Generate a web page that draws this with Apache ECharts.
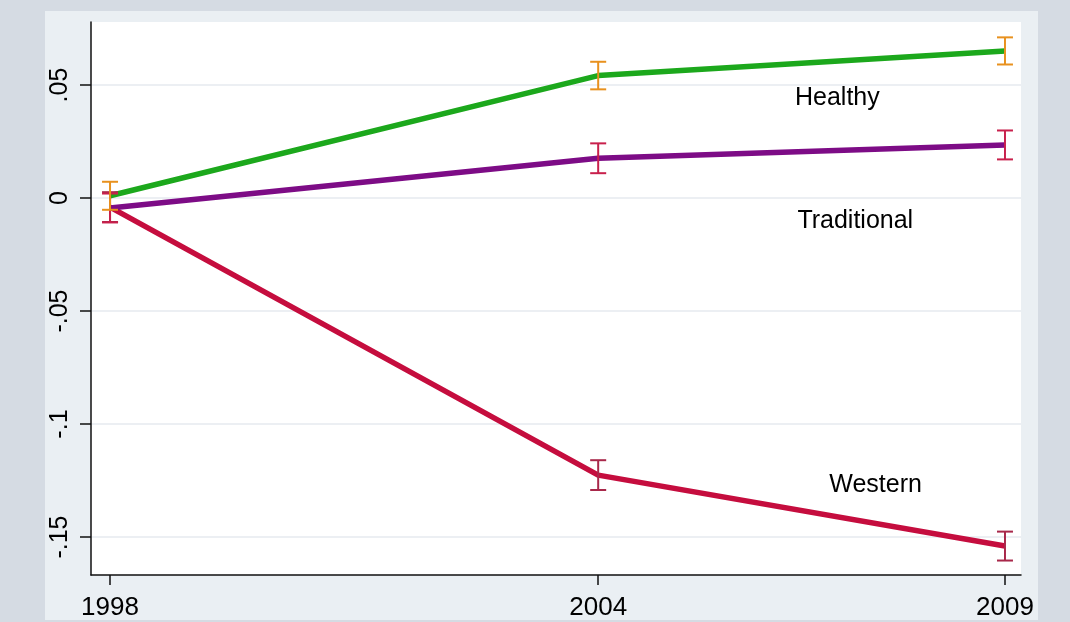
<!DOCTYPE html>
<html>
<head>
<meta charset="utf-8">
<script src="https://cdn.jsdelivr.net/npm/echarts@6/dist/echarts.min.js"></script>
<style>
  html, body { margin: 0; padding: 0; background: #d5dbe3; }
  #chart { width: 1070px; height: 622px; }
</style>
</head>
<body>
<div id="chart"></div>
<script>
// Survey waves and the three dietary pattern trajectories
const years = [1998, 2004, 2009];
const healthy = [0.001, 0.0542, 0.0651];
const traditional = [-0.0044, 0.0176, 0.0235];
const western = [-0.004, -0.1226, -0.154];

// 95% confidence half-widths per wave
const healthyCI = [0.0062, 0.0061, 0.006];
const traditionalCI = [0.0064, 0.0066, 0.0064];
const westernCI = [0.0066, 0.0066, 0.0064];

// Axis ticks
const yTicks = [-0.15, -0.1, -0.05, 0, 0.05];
const yTickLabels = ['-.15', '-.1', '-.05', '0', '.05'];
const xTicks = [1998, 2004, 2009];

// Pattern names written inside the plot, at data coordinates
const patternNames = ['Healthy', 'Traditional', 'Western'];
const nameYears = [2006.94, 2007.16, 2007.41];
const nameValues = [0.0442, -0.0102, -0.127];

const colors = {
  healthy: '#1ca81c',
  traditional: '#7d0c86',
  western: '#c50d3e',
  healthyCI: '#e8911e',
  traditionalCI: '#c8204c',
  westernCI: '#a8284a'
};

function pairs(vals) { return years.map((y, i) => [y, vals[i]]); }
function ciRows(vals, ci) { return years.map((y, i) => [y, vals[i] - ci[i], vals[i] + ci[i]]); }

function errorBar(color) {
  return function (params, api) {
    const x = api.value(0);
    const lo = api.coord([x, api.value(1)]);
    const hi = api.coord([x, api.value(2)]);
    const hw = 8;
    const style = { stroke: color, lineWidth: 2 };
    return {
      type: 'group',
      children: [
        { type: 'line', shape: { x1: lo[0], y1: lo[1], x2: hi[0], y2: hi[1] }, style },
        { type: 'line', shape: { x1: lo[0] - hw, y1: lo[1], x2: lo[0] + hw, y2: lo[1] }, style },
        { type: 'line', shape: { x1: hi[0] - hw, y1: hi[1], x2: hi[0] + hw, y2: hi[1] }, style }
      ]
    };
  };
}

function lineSeries(name, vals, color) {
  return {
    name, type: 'line', data: pairs(vals), showSymbol: false, symbol: 'none',
    lineStyle: { color, width: 5.5 }, z: 3, animation: false
  };
}

function ciSeries(name, vals, ci, color) {
  return {
    name: name + ' CI', type: 'custom', data: ciRows(vals, ci),
    encode: { x: 0, y: [1, 2] }, renderItem: errorBar(color), z: 4, animation: false
  };
}

const font = 'Liberation Sans, Arial, sans-serif';

const chart = echarts.init(document.getElementById('chart'), null, { renderer: 'canvas' });
chart.setOption({
  backgroundColor: '#d5dbe3',
  animation: false,
  graphic: [
    { type: 'rect', z: -10, shape: { x: 45, y: 11, width: 993, height: 609 }, style: { fill: '#eaeff3' } }
  ],
  grid: {
    left: 91, right: 49, top: 22, bottom: 47,
    show: true, backgroundColor: '#ffffff', borderWidth: 0
  },
  xAxis: {
    type: 'value', min: 1997.766, max: 2009.197,
    axisLine: { show: true, onZero: false, lineStyle: { color: '#111', width: 1.5 } },
    axisTick: { show: true, customValues: xTicks, length: 10, lineStyle: { color: '#111', width: 1.5 } },
    axisLabel: {
      customValues: xTicks, color: '#000', fontSize: 26, fontFamily: font, margin: 20,
      formatter: v => String(Math.round(v))
    },
    splitLine: { show: false }
  },
  yAxis: {
    type: 'value', min: -0.1668, max: 0.0779,
    axisLine: { show: true, onZero: false, lineStyle: { color: '#111', width: 1.5 } },
    axisTick: { show: true, customValues: yTicks, length: 11, lineStyle: { color: '#111', width: 1.5 } },
    axisLabel: {
      customValues: yTicks, color: '#000', fontSize: 25, fontFamily: font, rotate: 90, margin: 18,
      formatter: v => {
        let best = 0;
        yTicks.forEach((t, i) => { if (Math.abs(t - v) < Math.abs(yTicks[best] - v)) best = i; });
        return yTickLabels[best];
      }
    },
    splitLine: { show: true, lineStyle: { color: '#eceff3', width: 2 } }
  },
  series: [
    lineSeries('Western', western, colors.western),
    lineSeries('Traditional', traditional, colors.traditional),
    lineSeries('Healthy', healthy, colors.healthy),
    ciSeries('Western', western, westernCI, colors.westernCI),
    ciSeries('Traditional', traditional, traditionalCI, colors.traditionalCI),
    ciSeries('Healthy', healthy, healthyCI, colors.healthyCI),
    {
      name: 'names', type: 'scatter', symbolSize: 0, z: 5, animation: false,
      itemStyle: { opacity: 0 },
      data: patternNames.map((n, i) => ({ value: [nameYears[i], nameValues[i]], name: n })),
      label: {
        show: true, position: 'inside', formatter: p => p.name,
        color: '#000', fontSize: 25, fontFamily: font, opacity: 1
      },
      emphasis: { disabled: true }
    }
  ]
});
</script>
</body>
</html>
